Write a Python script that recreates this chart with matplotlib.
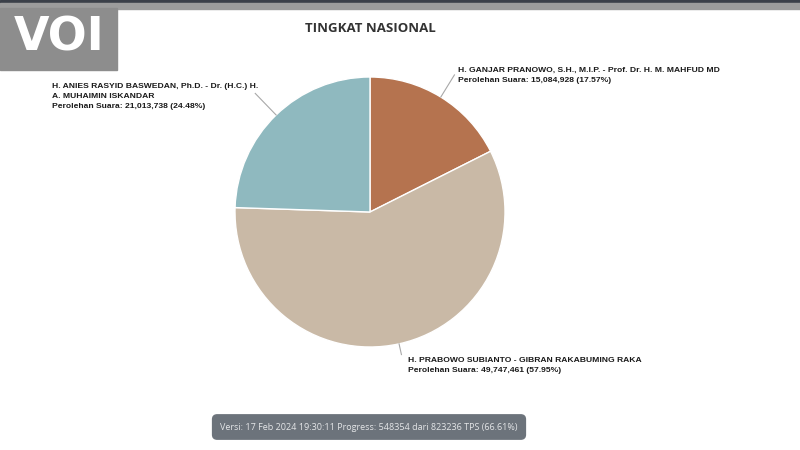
import numpy as np
import matplotlib.pyplot as plt
from matplotlib.patches import Rectangle

# data
names = ['H. GANJAR PRANOWO, S.H., M.I.P. - Prof. Dr. H. M. MAHFUD MD',
         'H. PRABOWO SUBIANTO - GIBRAN RAKABUMING RAKA',
         'H. ANIES RASYID BASWEDAN, Ph.D. - Dr. (H.C.) H.\nA. MUHAIMIN ISKANDAR']
votes = [15084928, 49747461, 21013738]
percents = [17.57, 57.95, 24.48]
colors = ['#b5734f', '#c9b9a6', '#8fb9bf']
title = 'TINGKAT NASIONAL'
footer = 'Versi: 17 Feb 2024 19:30:11 Progress: 548354 dari 823236 TPS (66.61%)'

W, H = 800, 450
fig = plt.figure(figsize=(8, 4.5), dpi=100)
fig.patch.set_facecolor('white')

def fx(x):
    return x / W

def fy(y):
    return 1 - y / H

# top bars and logo box
fig.add_artist(Rectangle((0, fy(3)), 1, 3 / H, transform=fig.transFigure,
                         color='#3b4049', zorder=0))
fig.add_artist(Rectangle((0, fy(9)), 1, 6 / H, transform=fig.transFigure,
                         color='#9c9c9c', zorder=0))
fig.add_artist(Rectangle((0, fy(70)), fx(117), 62 / H, transform=fig.transFigure,
                         color='#8d8d8d', zorder=1))
fig.text(fx(59), fy(38), 'VOI', color='white', fontsize=33, fontweight='heavy',
         family='DejaVu Sans', ha='center', va='center', zorder=2)

# pie axes: center (370, 212), radius 135 px
cx, cy, r = 370, 212, 135
ax = fig.add_axes([fx(cx - r), fy(cy + r), 2 * r / W, 2 * r / H])
wedges, _ = ax.pie(votes, colors=colors, startangle=90, counterclock=False,
                   radius=1, wedgeprops=dict(edgecolor='white', linewidth=1))
ax.set_xlim(-1, 1)
ax.set_ylim(-1, 1)
ax.set_aspect('equal')
ax.axis('off')

# leader lines and labels
lead_len = [26, 11, 30]
text_pos = [(458, 67), (408, 357), (52, 83)]
for w, name, v, p, L, (tx, ty) in zip(wedges, names, votes, percents, lead_len, text_pos):
    ang = np.deg2rad((w.theta1 + w.theta2) / 2)
    r2 = 1 + L / r
    ax.plot([np.cos(ang), r2 * np.cos(ang)], [np.sin(ang), r2 * np.sin(ang)],
            color='#a8a8a8', lw=0.8, clip_on=False)
    label = f'{name}\nPerolehan Suara: {v:,} ({p:.2f}%)'
    fig.text(fx(tx), fy(ty), label, fontsize=6.1, fontweight='bold',
             family='Liberation Sans', color='#1a1a1a', ha='left', va='top',
             linespacing=1.65)

# title
fig.text(fx(370), fy(28), title, fontsize=9.5, fontweight='bold',
         family='Open Sans', color='#333333', ha='center', va='center')

# footer box
fig.text(fx(369), fy(427), footer, fontsize=6.5, family='Open Sans',
         color='#e4e6e8', ha='center', va='center',
         bbox=dict(boxstyle='round,pad=0.85,rounding_size=0.5',
                   facecolor='#6c737b', edgecolor='#6c737b'))

fig.savefig('out.png', dpi=100)
